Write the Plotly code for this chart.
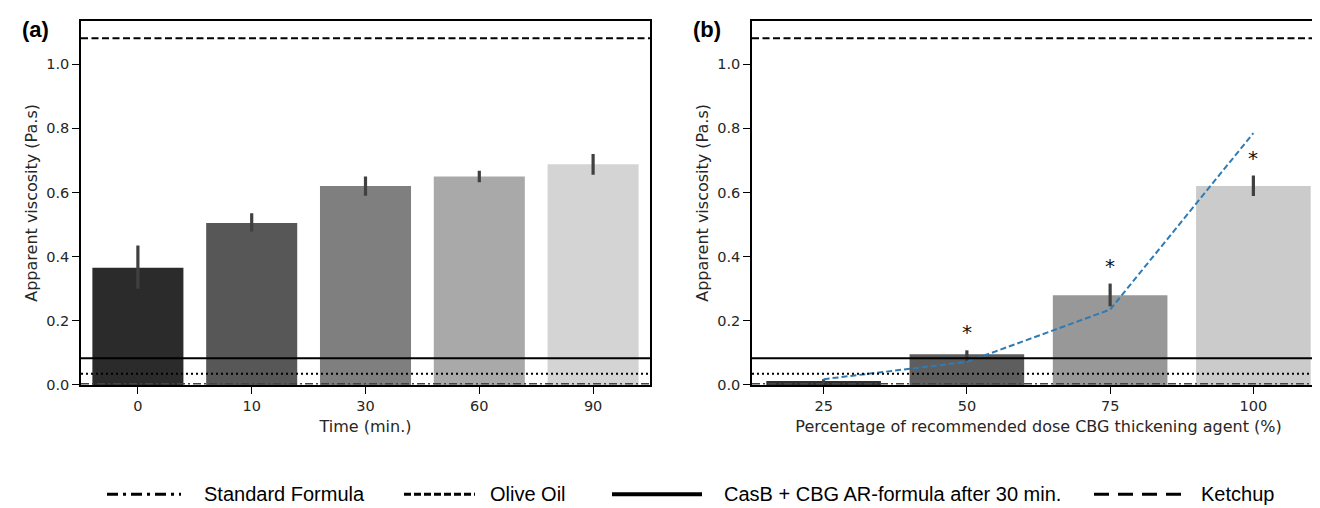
import plotly.graph_objects as go

W, H = 1320, 508

# ---------------- data ----------------
time_labels = ["0", "10", "30", "60", "90"]
time_mean = [0.365, 0.505, 0.62, 0.65, 0.688]
time_err_lo = [0.300, 0.478, 0.590, 0.632, 0.655]
time_err_hi = [0.435, 0.535, 0.650, 0.668, 0.720]
time_colors = ["#2b2b2b", "#575757", "#7f7f7f", "#a9a9a9", "#d4d4d4"]

dose_labels = ["25", "50", "75", "100"]
dose_mean = [0.012, 0.096, 0.280, 0.620]
dose_err_lo = [0.006, 0.075, 0.245, 0.589]
dose_err_hi = [0.018, 0.108, 0.316, 0.653]
dose_model = [0.018, 0.072, 0.235, 0.785]
dose_sig = [False, True, True, True]
dose_colors = ["#303030", "#5e5e5e", "#989898", "#cbcbcb"]

ref_names = ["Standard Formula", "Olive Oil", "CasB + CBG AR-formula after 30 min.", "Ketchup"]
ref_values = [0.004, 0.035, 0.083, 1.081]
ref_dash = ["8px,3px,2px,3px", "2px,3px", "solid", "7px,3.5px"]
legend_dash = ["11px,5px,3px,5px", "7px,3px", "solid", "15px,9px"]
legend_width = [3, 3, 4, 3]

# ---------------- figure ----------------
fig = go.Figure()

xs_t = list(range(len(time_labels)))
fig.add_trace(go.Bar(
    x=xs_t, y=time_mean, width=0.8, marker=dict(color=time_colors, line=dict(width=0)),
    error_y=dict(type="data", symmetric=False,
                 array=[h - m for h, m in zip(time_err_hi, time_mean)],
                 arrayminus=[m - l for l, m in zip(time_err_lo, time_mean)],
                 color="#404040", thickness=3.2, width=0),
    xaxis="x", yaxis="y", showlegend=False))

xs_d = list(range(len(dose_labels)))
fig.add_trace(go.Bar(
    x=xs_d, y=dose_mean, width=0.8, marker=dict(color=dose_colors, line=dict(width=0)),
    error_y=dict(type="data", symmetric=False,
                 array=[h - m for h, m in zip(dose_err_hi, dose_mean)],
                 arrayminus=[m - l for l, m in zip(dose_err_lo, dose_mean)],
                 color="#404040", thickness=3.2, width=0),
    xaxis="x2", yaxis="y2", showlegend=False))

fig.add_trace(go.Scatter(
    x=xs_d, y=dose_model, mode="lines",
    line=dict(color="#2f7bb5", width=2, dash="6px,3px"),
    xaxis="x2", yaxis="y2", showlegend=False))

shapes = []
for xr, yr in (("x domain", "y"), ("x2 domain", "y2")):
    for v, d, nm in zip(ref_values, ref_dash, ref_names):
        shapes.append(dict(type="line", xref=xr, yref=yr, x0=0, x1=1, y0=v, y1=v,
                           layer="above",
                           line=dict(color="#000000" if nm != "Standard Formula" else "#444444",
                                     width=2 if nm != "Standard Formula" else 1.5, dash=d)))

annotations = []
for i, (s, hi) in enumerate(zip(dose_sig, dose_err_hi)):
    if s:
        annotations.append(dict(x=i, y=hi + 0.012, xref="x2", yref="y2", text="*",
                                showarrow=False, yanchor="bottom",
                                font=dict(size=20, color="#111111", family="DejaVu Sans")))

annotations.append(dict(x=12 / W, y=1 - 22 / H, xref="paper", yref="paper", text="<b>(a)</b>",
                        showarrow=False, xanchor="left", yanchor="middle",
                        font=dict(size=22, family="Liberation Sans, Arial", color="#000000")))
annotations.append(dict(x=683 / W, y=1 - 22 / H, xref="paper", yref="paper", text="<b>(b)</b>",
                        showarrow=False, xanchor="left", yanchor="middle",
                        font=dict(size=22, family="Liberation Sans, Arial", color="#000000")))

# manual legend at the bottom
leg_y = 1 - 494 / H
leg_items = [(99, 173, 194), (396, 467, 480), (604, 694, 714), (1086, 1174, 1191)]
for (x0, x1, tx), nm, d, lw in zip(leg_items, ref_names, legend_dash, legend_width):
    shapes.append(dict(type="line", xref="paper", yref="paper", x0=x0 / W, x1=x1 / W,
                       y0=leg_y, y1=leg_y, line=dict(color="#000000", width=lw, dash=d)))
    annotations.append(dict(x=tx / W, y=leg_y, xref="paper", yref="paper", text=nm,
                            showarrow=False, xanchor="left", yanchor="middle",
                            font=dict(size=20, family="Liberation Sans, Arial", color="#000000")))

font_ax = dict(family="DejaVu Sans", size=14.5, color="#262626")
font_title = dict(family="DejaVu Sans", size=16, color="#262626")
axis_common = dict(showline=True, mirror=True, linecolor="#000000", linewidth=1.6,
                   ticks="outside", ticklen=7, tickwidth=1.3, tickcolor="#000000",
                   showgrid=False, zeroline=False, tickfont=font_ax)

yticks = [0, 0.2, 0.4, 0.6, 0.8, 1.0]
ytick_text = ["0.0", "0.2", "0.4", "0.6", "0.8", "1.0"]
y_dom = [1 - 383 / H, 1 - 13 / H]
fig.update_layout(
    width=W, height=H, margin=dict(l=0, r=0, t=0, b=0),
    paper_bgcolor="white", plot_bgcolor="white",
    bargap=0.2, shapes=shapes, annotations=annotations, showlegend=False,
    xaxis=dict(domain=[73 / W, 642 / W], range=[-0.5, 4.5], anchor="y",
               tickvals=xs_t, ticktext=time_labels,
               title=dict(text="Time (min.)", font=font_title, standoff=8),
               **axis_common),
    yaxis=dict(domain=y_dom, range=[0, 1.135], anchor="x",
               tickvals=yticks, ticktext=ytick_text,
               title=dict(text="Apparent viscosity (Pa.s)", font=font_title, standoff=5),
               **axis_common),
    xaxis2=dict(domain=[744 / W, 1317 / W], range=[-0.5, 3.5], anchor="y2",
                tickvals=xs_d, ticktext=dose_labels,
                title=dict(text="Percentage of recommended dose CBG thickening agent (%)",
                           font=font_title, standoff=8),
                **axis_common),
    yaxis2=dict(domain=y_dom, range=[0, 1.135], anchor="x2",
                tickvals=yticks, ticktext=ytick_text,
                title=dict(text="Apparent viscosity (Pa.s)", font=font_title, standoff=5),
                **axis_common),
)

fig.write_html("out.html")
